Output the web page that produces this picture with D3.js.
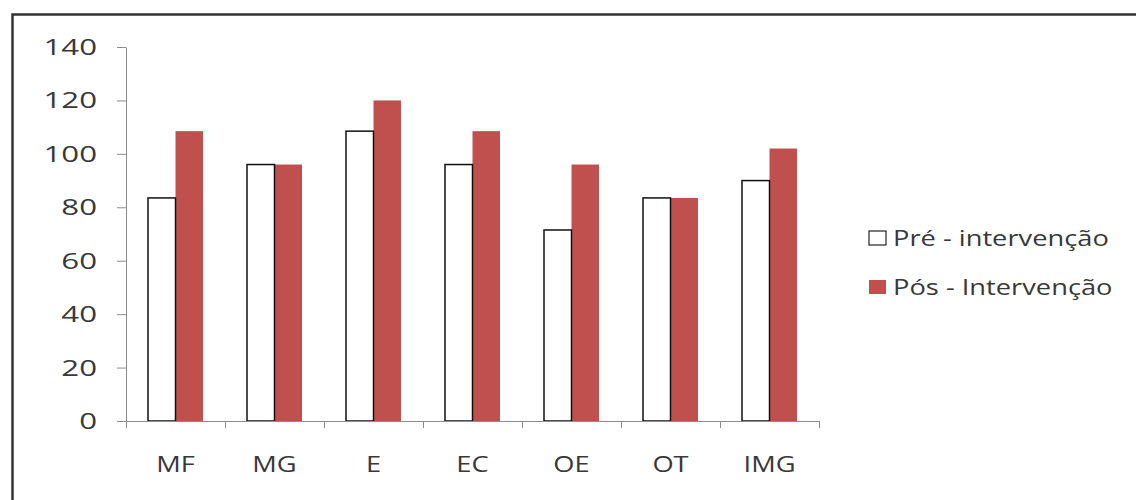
<!DOCTYPE html>
<html>
<head>
<meta charset="utf-8">
<script src="https://cdn.jsdelivr.net/npm/d3@7"></script>
<style>
  body { margin: 0; background: #fff; }
  svg { display: block; }
  text { font-family: "Open Sans", sans-serif; fill: #383838; }
</style>
</head>
<body>
<svg id="chart" width="1136" height="500"></svg>
<script>
// Scores per domain, before and after the intervention
const categories = ["MF", "MG", "E", "EC", "OE", "OT", "IMG"];
const preValues  = [83.5, 96, 108.5, 96, 71.5, 83.5, 90];
const postValues = [108.5, 96, 120, 108.5, 96, 83.5, 102];
const seriesNames = ["Pré - intervenção", "Pós - Intervenção"];
const yTicks = [0, 20, 40, 60, 80, 100, 120, 140];

const svg = d3.select("#chart");
const textStretch = 1.24;   // the glyphs are drawn wide
const digitStretch = 1.42;  // tick numbers are wider still
const fontSize = 22;
const redFill = "#c0504d";

// Chart frame (left and top edges)
svg.append("path")
  .attr("d", "M12.5,500V14.5H1136")
  .attr("fill", "none")
  .attr("stroke", "#333")
  .attr("stroke-width", 2.5);

const x = d3.scaleBand().domain(categories).range([126, 819]).paddingInner(0).paddingOuter(0);
const xSub = d3.scaleBand().domain([0, 1]).range([0, x.bandwidth()]).paddingInner(0).paddingOuter(0.8);
const y = d3.scaleLinear().domain([0, 140]).range([421, 47]);

// Y axis
const yAxis = svg.append("g")
  .attr("transform", "translate(126,0)")
  .call(d3.axisLeft(y).tickValues(yTicks).tickSize(9).tickSizeOuter(0));
yAxis.select(".domain").attr("stroke", "#8c8c8c");
yAxis.selectAll(".tick line").attr("stroke", "#8c8c8c");
yAxis.selectAll(".tick text")
  .attr("font-size", fontSize)
  .attr("font-family", "Open Sans, sans-serif")
  .attr("fill", "#383838")
  .attr("x", -29 / digitStretch)
  .attr("dy", "0.34em")
  .attr("transform", `scale(${digitStretch},1)`);

// Bars
const rows = categories.map((c, i) => ({ cat: c, vals: [preValues[i], postValues[i]] }));
const groups = svg.append("g").selectAll("g")
  .data(rows).join("g")
  .attr("transform", d => `translate(${x(d.cat)},0)`);

// Post-intervention (filled red)
groups.append("rect")
  .attr("x", xSub(1))
  .attr("width", xSub.bandwidth())
  .attr("y", d => y(d.vals[1]))
  .attr("height", d => y(0) - y(d.vals[1]))
  .attr("fill", redFill);

// Pre-intervention (white with dark outline)
groups.append("rect")
  .attr("x", xSub(0))
  .attr("width", xSub.bandwidth())
  .attr("y", d => y(d.vals[0]))
  .attr("height", d => y(0) - y(d.vals[0]))
  .attr("fill", "#fff")
  .attr("stroke", "#111")
  .attr("stroke-width", 1.5);

// X axis line with boundary ticks
const xAxis = svg.append("g");
xAxis.append("line")
  .attr("x1", x.range()[0]).attr("x2", x.range()[1])
  .attr("y1", y(0) + 0.5).attr("y2", y(0) + 0.5)
  .attr("stroke", "#8c8c8c");
const bounds = categories.map(c => x(c)).concat([x.range()[1]]);
xAxis.selectAll("line.b").data(bounds).join("line")
  .attr("class", "b")
  .attr("x1", d => d + 0.5).attr("x2", d => d + 0.5)
  .attr("y1", y(0)).attr("y2", y(0) + 7)
  .attr("stroke", "#8c8c8c");
xAxis.selectAll("text").data(categories).join("text")
  .attr("transform", d => `translate(${x(d) + x.bandwidth() / 2},472) scale(${textStretch},1)`)
  .attr("text-anchor", "middle")
  .attr("font-size", fontSize)
  .text(d => d);

// Legend
const legend = svg.append("g");
const legendRows = [
  { name: seriesNames[0], fill: "#fff", stroke: "#222", y: 231 },
  { name: seriesNames[1], fill: redFill, stroke: "none", y: 280 }
];
legend.selectAll("rect").data(legendRows).join("rect")
  .attr("x", 869).attr("y", d => d.y)
  .attr("width", 17).attr("height", 14)
  .attr("fill", d => d.fill)
  .attr("stroke", d => d.stroke)
  .attr("stroke-width", 1.2);
legend.selectAll("text").data(legendRows).join("text")
  .attr("transform", d => `translate(893,${d.y + 15}) scale(${textStretch},1)`)
  .attr("font-size", fontSize)
  .text(d => d.name);
</script>
</body>
</html>
